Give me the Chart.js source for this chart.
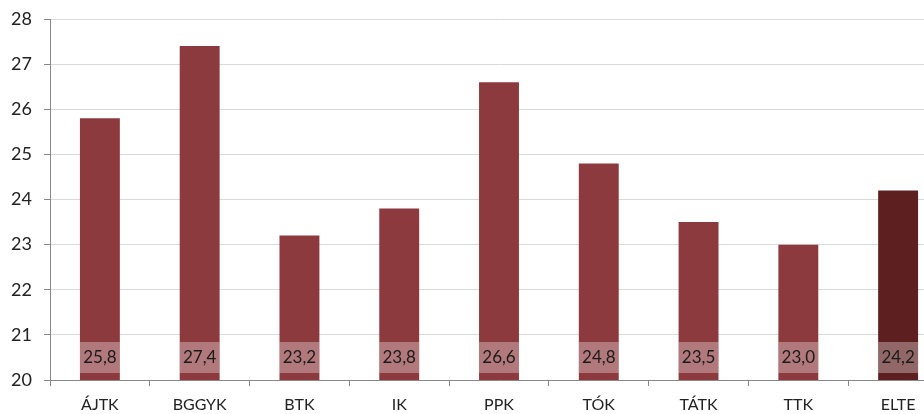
<!DOCTYPE html>
<html>
<head>
<meta charset="utf-8">
<script src="https://cdn.jsdelivr.net/npm/chart.js@4"></script>
<style>
    html, body { margin: 0; padding: 0; background: #fff; overflow: hidden; }
    #wrap { width: 948px; height: 414px; }
</style>
</head>
<body>
<div id="wrap"><canvas id="chart" width="948" height="414"></canvas></div>
<script>
// Data
const categories = ["ÁJTK", "BGGYK", "BTK", "IK", "PPK", "TÓK", "TÁTK", "TTK", "ELTE"];
const values = [25.8, 27.4, 23.2, 23.8, 26.6, 24.8, 23.5, 23.0, 24.2];
const yTicks = [20, 21, 22, 23, 24, 25, 26, 27, 28];

const barColor = '#8c3a3d';
const totalColor = '#5e1f20';

// value boxes near the bottom of each bar
const valueBoxes = {
    id: 'valueBoxes',
    afterDraw(chart) {
        const ctx = chart.ctx;
        const meta = chart.getDatasetMeta(0);
        const bottom = chart.scales.y.getPixelForValue(yTicks[0]);
        ctx.save();
        ctx.font = '17px Lato, "Open Sans", sans-serif';
        ctx.textAlign = 'center';
        ctx.textBaseline = 'middle';
        meta.data.forEach((bar, i) => {
            const p = bar.getProps(['x', 'width'], true);
            const left = p.x - p.width / 2;
            ctx.fillStyle = 'rgba(255, 255, 255, 0.32)';
            ctx.fillRect(left, bottom - 38, p.width, 31);
            ctx.fillStyle = '#1a1a1a';
            ctx.fillText(values[i].toFixed(1).replace('.', ','), p.x, bottom - 22);
        });
        ctx.restore();
    }
};

new Chart(document.getElementById('chart'), {
    type: 'bar',
    data: {
        labels: categories,
        datasets: [{
            data: values,
            backgroundColor: categories.map((c, i) => i === categories.length - 1 ? totalColor : barColor),
            barPercentage: 0.4,
            categoryPercentage: 1.0
        }]
    },
    options: {
        responsive: false,
        animation: false,
        layout: { padding: { top: 0, right: 0, left: 0, bottom: 0 } },
        plugins: {
            legend: { display: false },
            tooltip: { enabled: false }
        },
        scales: {
            y: {
                min: 20,
                max: 28,
                afterFit: (scale) => { scale.width = 50; scale.paddingTop = 19; },
                afterBuildTicks: (scale) => { scale.ticks = yTicks.map(v => ({ value: v })); },
                grid: {
                    color: '#d9d9d9',
                    tickColor: '#888',
                    tickLength: 6
                },
                border: { color: '#888' },
                ticks: {
                    color: '#222',
                    padding: 12,
                    font: { family: 'Lato, "Open Sans", sans-serif', size: 18 }
                }
            },
            x: {
                afterFit: (scale) => { scale.height = 34; },
                grid: {
                    offset: true,
                    drawOnChartArea: false,
                    tickColor: '#888',
                    tickLength: 6
                },
                border: { color: '#888' },
                ticks: {
                    color: '#222',
                    padding: 9,
                    font: { family: 'Lato, "Open Sans", sans-serif', size: 16 }
                }
            }
        }
    },
    plugins: [valueBoxes]
});
</script>
</body>
</html>
